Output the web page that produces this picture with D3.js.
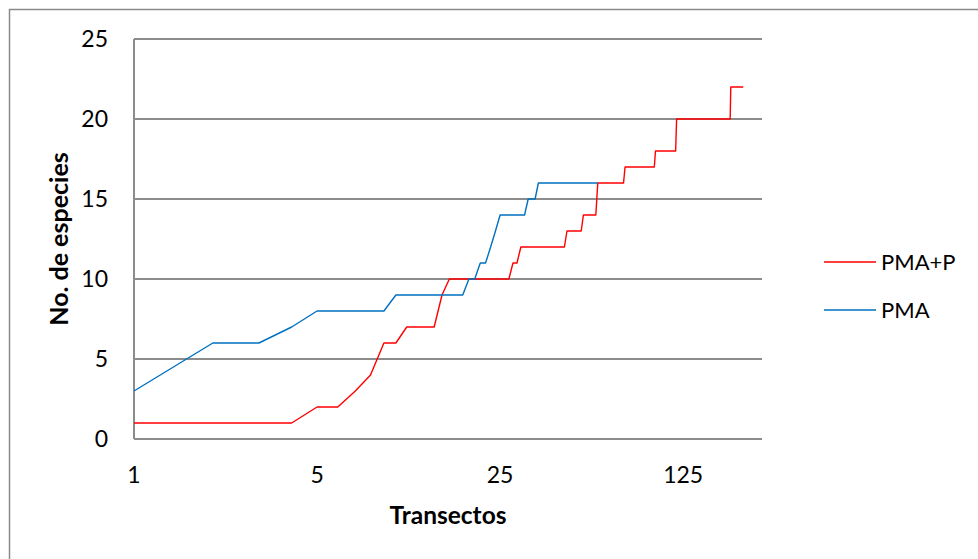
<!DOCTYPE html>
<html>
<head>
<meta charset="utf-8">
<script src="https://cdn.jsdelivr.net/npm/d3@7"></script>
<style>
  html, body { margin: 0; padding: 0; background: #fff; }
  svg { display: block; }
  text { font-family: Lato, "Open Sans", sans-serif; fill: #000; }
</style>
</head>
<body>
<svg id="chart" width="978" height="559"></svg>
<script>
// Cumulative species count per transect (transect n = index + 1)
const seriesNames = ["PMA+P", "PMA"];
const seriesColors = ["#ff0000", "#0070c0"];

const pmaP = [
  1, 1, 1, 1, 2, 2, 3, 4, 6, 6,
  7, 7, 7, 7, 9, 10, 10, 10, 10, 10,
  10, 10, 10, 10, 10, 10, 10, 11, 11, 12,
  12, 12, 12, 12, 12, 12, 12, 12, 12, 12,
  12, 12, 12, 12, 13, 13, 13, 13, 13, 13,
  13, 14, 14, 14, 14, 14, 14, 14, 16, 16,
  16, 16, 16, 16, 16, 16, 16, 16, 16, 16,
  16, 16, 16, 16, 17, 17, 17, 17, 17, 17,
  17, 17, 17, 17, 17, 17, 17, 17, 17, 17,
  17, 17, 17, 17, 17, 17, 17, 18, 18, 18,
  18, 18, 18, 18, 18, 18, 18, 18, 18, 18,
  18, 18, 18, 18, 18, 18, 18, 20, 20, 20,
  20, 20, 20, 20, 20, 20, 20, 20, 20, 20,
  20, 20, 20, 20, 20, 20, 20, 20, 20, 20,
  20, 20, 20, 20, 20, 20, 20, 20, 20, 20,
  20, 20, 20, 20, 20, 20, 20, 20, 20, 20,
  20, 20, 20, 20, 20, 20, 20, 20, 20, 20,
  20, 20, 20, 20, 20, 20, 20, 20, 20, 20,
  20, 20, 20, 20, 20, 20, 20, 20, 20, 22,
  22, 22, 22, 22, 22, 22, 22, 22, 22, 22,
  22, 22, 22, 22, 22, 22, 22, 22, 22, 22,
  22, 22
];

const pma = [
  3, 6, 6, 7, 8, 8, 8, 8, 8, 9,
  9, 9, 9, 9, 9, 9, 9, 9, 10, 10,
  11, 11, 12, 13, 14, 14, 14, 14, 14, 14,
  14, 15, 15, 15, 16, 16, 16, 16, 16, 16,
  16, 16, 16, 16, 16, 16, 16, 16, 16, 16,
  16, 16, 16, 16, 16, 16, 16, 16, 16
];

const xTicks = [1, 5, 25, 125];
const yTicks = [0, 5, 10, 15, 20, 25];

const svg = d3.select("#chart");

// Chart area frame (left and top edges fall inside the view)
svg.append("path")
  .attr("d", "M9.5,600 V9.5 H1000")
  .attr("fill", "none")
  .attr("stroke", "#8a8a8a")
  .attr("stroke-width", 1.5);

const x = d3.scaleLog().base(5).domain([1, 250]).range([134, 762]);
const y = d3.scaleLinear().domain([0, 25]).range([439, 39]);

// Horizontal gridlines
svg.append("g")
  .selectAll("line")
  .data(yTicks)
  .join("line")
  .attr("x1", x.range()[0])
  .attr("x2", x.range()[1])
  .attr("y1", d => y(d))
  .attr("y2", d => y(d))
  .attr("stroke", "#8c8c8c")
  .attr("stroke-width", 2);

// Vertical axis line
svg.append("line")
  .attr("x1", x.range()[0]).attr("x2", x.range()[0])
  .attr("y1", y(25)).attr("y2", y(0))
  .attr("stroke", "#8c8c8c")
  .attr("stroke-width", 2);

// Y tick labels
svg.append("g")
  .selectAll("text")
  .data(yTicks)
  .join("text")
  .attr("x", 108)
  .attr("y", d => y(d))
  .attr("dy", "0.35em")
  .attr("text-anchor", "end")
  .attr("font-size", 23)
  .text(d => d);

// X tick labels
svg.append("g")
  .selectAll("text")
  .data(xTicks)
  .join("text")
  .attr("x", d => x(d))
  .attr("y", 475)
  .attr("dy", "0.35em")
  .attr("text-anchor", "middle")
  .attr("font-size", 23)
  .text(d => d);

// Axis titles
svg.append("text")
  .attr("x", 448)
  .attr("y", 515)
  .attr("dy", "0.35em")
  .attr("text-anchor", "middle")
  .attr("font-size", 24.5)
  .attr("font-weight", "bold")
  .text("Transectos");

svg.append("text")
  .attr("transform", `translate(59,${(y(0) + y(25)) / 2}) rotate(-90)`)
  .attr("dy", "0.35em")
  .attr("text-anchor", "middle")
  .attr("font-size", 25)
  .attr("font-weight", "bold")
  .text("No. de especies");

// Series lines
const line = d3.line()
  .x((d, i) => x(i + 1))
  .y(d => y(d));

[pmaP, pma].forEach((values, k) => {
  svg.append("path")
    .datum(values)
    .attr("fill", "none")
    .attr("stroke", seriesColors[k])
    .attr("stroke-width", 1.4)
    .attr("stroke-linejoin", "round")
    .attr("d", line);
});

// Legend
const legend = svg.append("g");
seriesNames.forEach((name, k) => {
  const ly = 262 + k * 48;
  legend.append("line")
    .attr("x1", 824).attr("x2", 876)
    .attr("y1", ly).attr("y2", ly)
    .attr("stroke", seriesColors[k])
    .attr("stroke-width", 1.4);
  legend.append("text")
    .attr("x", 881)
    .attr("y", ly)
    .attr("dy", "0.35em")
    .attr("font-size", 22)
    .text(name);
});
</script>
</body>
</html>
